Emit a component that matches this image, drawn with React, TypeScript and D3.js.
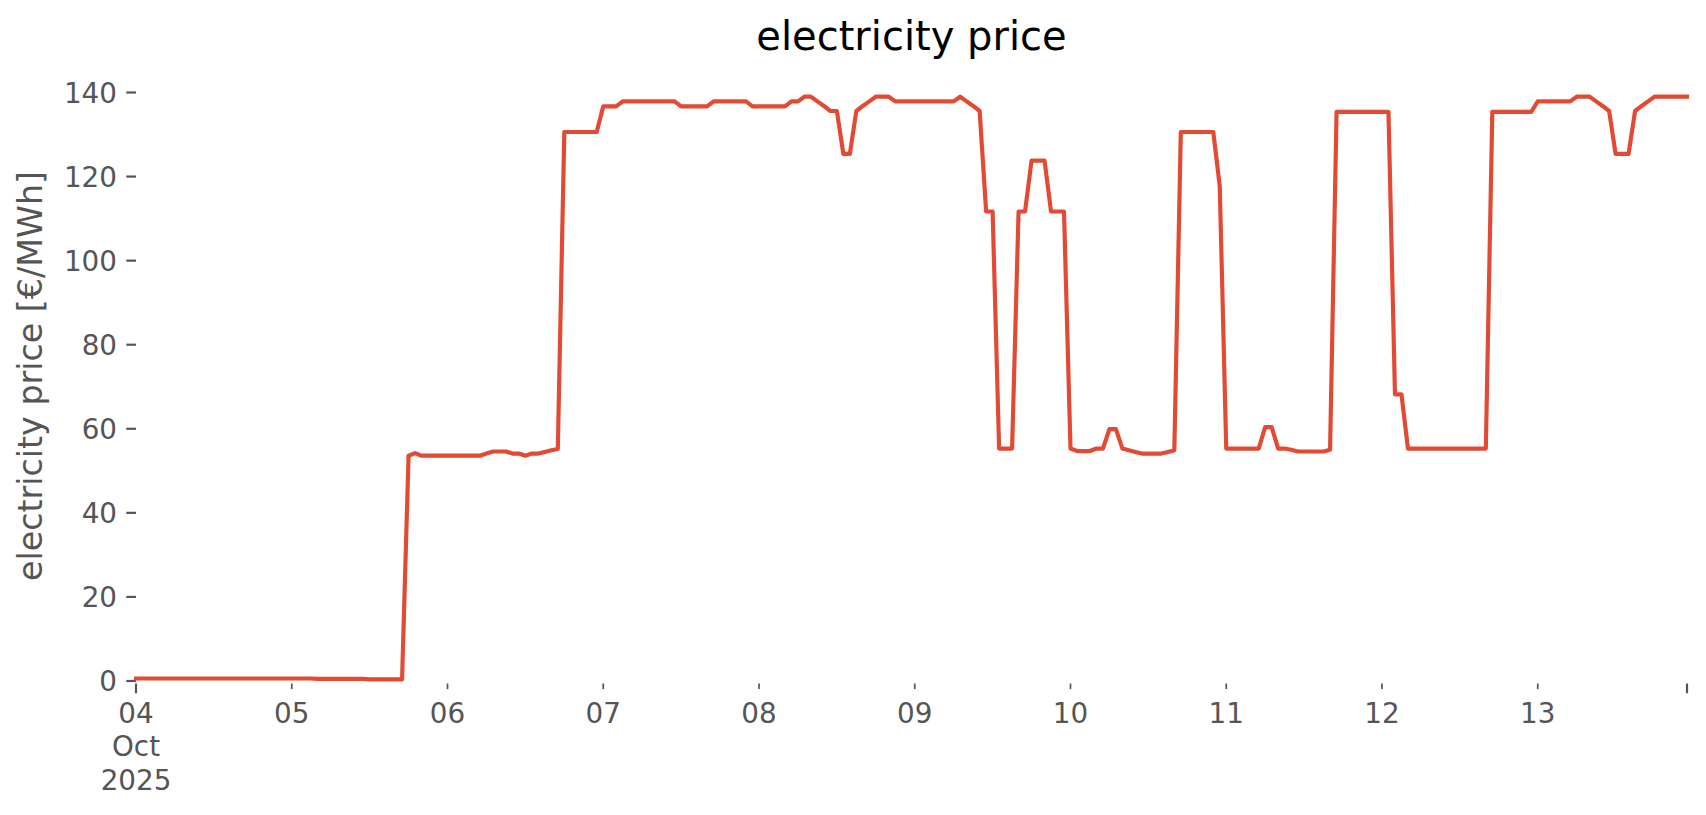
import React from "react";
import * as d3 from "d3";

// Hourly day-ahead electricity price [€/MWh], 04 Oct 2025 00:00 .. 13 Oct 2025 23:00
const oct04 = [0.6, 0.6, 0.6, 0.6, 0.6, 0.6, 0.6, 0.6, 0.6, 0.6, 0.6, 0.6, 0.6, 0.6, 0.6, 0.6, 0.6, 0.6, 0.6, 0.6, 0.6, 0.6, 0.6, 0.6];
const oct05 = [0.6, 0.6, 0.6, 0.6, 0.5, 0.5, 0.5, 0.5, 0.5, 0.5, 0.5, 0.5, 0.4, 0.4, 0.4, 0.4, 0.4, 0.4, 53.6, 54.2, 53.6, 53.6, 53.6, 53.6];
const oct06 = [53.6, 53.6, 53.6, 53.6, 53.6, 53.6, 54.1, 54.6, 54.6, 54.6, 54.1, 54.1, 53.6, 54.1, 54.1, 54.5, 54.9, 55.2, 130.6, 130.6, 130.6, 130.6, 130.6, 130.6];
const oct07 = [136.7, 136.7, 136.7, 137.9, 137.9, 137.9, 137.9, 137.9, 137.9, 137.9, 137.9, 137.9, 136.7, 136.7, 136.7, 136.7, 136.7, 137.9, 137.9, 137.9, 137.9, 137.9, 137.9, 136.7];
const oct08 = [136.7, 136.7, 136.7, 136.7, 136.7, 137.9, 137.9, 139.0, 139.0, 137.9, 136.8, 135.6, 135.6, 125.4, 125.4, 135.6, 136.8, 137.9, 139.0, 139.0, 139.0, 137.9, 137.9, 137.9];
const oct09 = [137.9, 137.9, 137.9, 137.9, 137.9, 137.9, 137.9, 139.0, 137.9, 136.8, 135.6, 111.7, 111.7, 55.3, 55.3, 55.3, 111.7, 111.7, 123.8, 123.8, 123.8, 111.7, 111.7, 111.7];
const oct10 = [55.3, 54.7, 54.7, 54.7, 55.3, 55.3, 59.9, 59.9, 55.3, 54.9, 54.5, 54.1, 54.1, 54.1, 54.1, 54.5, 54.9, 130.6, 130.6, 130.6, 130.6, 130.6, 130.6, 117.7];
const oct11 = [55.3, 55.3, 55.3, 55.3, 55.3, 55.3, 60.4, 60.4, 55.3, 55.3, 55.0, 54.6, 54.6, 54.6, 54.6, 54.6, 55.0, 135.4, 135.4, 135.4, 135.4, 135.4, 135.4, 135.4];
const oct12 = [135.4, 135.4, 68.2, 68.2, 55.3, 55.3, 55.3, 55.3, 55.3, 55.3, 55.3, 55.3, 55.3, 55.3, 55.3, 55.3, 55.3, 135.4, 135.4, 135.4, 135.4, 135.4, 135.4, 135.4];
const oct13 = [137.9, 137.9, 137.9, 137.9, 137.9, 137.9, 139.0, 139.0, 139.0, 137.9, 136.8, 135.6, 125.4, 125.4, 125.4, 135.6, 136.8, 137.9, 139.0, 139.0, 139.0, 139.0, 139.0, 139.0];

const prices: number[] = [
  ...oct04, ...oct05, ...oct06, ...oct07, ...oct08,
  ...oct09, ...oct10, ...oct11, ...oct12, ...oct13,
];

const yTicks = [0, 20, 40, 60, 80, 100, 120, 140];
const dayLabels = ["04", "05", "06", "07", "08", "09", "10", "11", "12", "13"];
const monthLabel = "Oct";
const yearLabel = "2025";
const titleText = "electricity price";
const yLabelText = "electricity price [€/MWh]";

const start = new Date(2025, 9, 4, 0);
const times = prices.map((_, i) => new Date(2025, 9, 4, i));
const dayTicks = dayLabels.map((_, i) => new Date(2025, 9, 4 + i, 0));

export default function App() {
  const W = 1706;
  const H = 815;
  const left = 136;
  const right = 1687;
  const axBottom = 683.5;

  const x = d3.scaleTime().domain([start, times[times.length - 1]]).range([left, right]);
  const y = d3.scaleLinear().domain([0, 140]).range([681, 92.5]);

  const line = d3
    .line<number>()
    .x((_, i) => x(times[i]))
    .y((d) => y(d));

  const tickColor = "#555555";
  const font = "DejaVu Sans, sans-serif";
  const tickFs = 27.8;

  return (
    <svg
      width={W}
      height={H}
      style={{ position: "absolute", left: 0, top: 0, background: "#ffffff" }}
      fontFamily={font}
    >
      <rect x={0} y={0} width={W} height={H} fill="#ffffff" />
      {/* title */}
      <text x={(left + right) / 2} y={50} textAnchor="middle" fontSize={40} fill="#000000">
        {titleText}
      </text>
      {/* y label */}
      <text
        transform={`translate(42, 376) rotate(-90)`}
        textAnchor="middle"
        fontSize={33.3}
        fill={tickColor}
      >
        {yLabelText}
      </text>
      {/* y ticks */}
      {yTicks.map((t) => (
        <g key={"y" + t}>
          <line x1={left - 9.7} x2={left} y1={y(t)} y2={y(t)} stroke={tickColor} strokeWidth={2.2} />
          <text x={117} y={y(t) + 10.1} textAnchor="end" fontSize={tickFs} fill={tickColor}>
            {t}
          </text>
        </g>
      ))}
      {/* x ticks */}
      {dayTicks.map((d, i) => {
        const major = i === 0;
        return (
          <g key={"x" + i}>
            <line
              x1={x(d)}
              x2={x(d)}
              y1={axBottom}
              y2={axBottom + (major ? 9.7 : 5.6)}
              stroke={tickColor}
              strokeWidth={major ? 2.2 : 1.7}
            />
            <text x={x(d)} y={723} textAnchor="middle" fontSize={tickFs} fill={tickColor}>
              {dayLabels[i]}
            </text>
          </g>
        );
      })}
      <line
        x1={x(times[times.length - 1])}
        x2={x(times[times.length - 1])}
        y1={axBottom}
        y2={axBottom + 9.7}
        stroke={tickColor}
        strokeWidth={2.2}
      />
      <text x={x(dayTicks[0])} y={756.4} textAnchor="middle" fontSize={tickFs} fill={tickColor}>
        {monthLabel}
      </text>
      <text x={x(dayTicks[0])} y={789.7} textAnchor="middle" fontSize={tickFs} fill={tickColor}>
        {yearLabel}
      </text>
      {/* price line */}
      <path
        d={line(prices) || ""}
        fill="none"
        stroke="#E24A33"
        strokeWidth={4.17}
        strokeLinejoin="round"
        strokeLinecap="square"
      />
    </svg>
  );
}
